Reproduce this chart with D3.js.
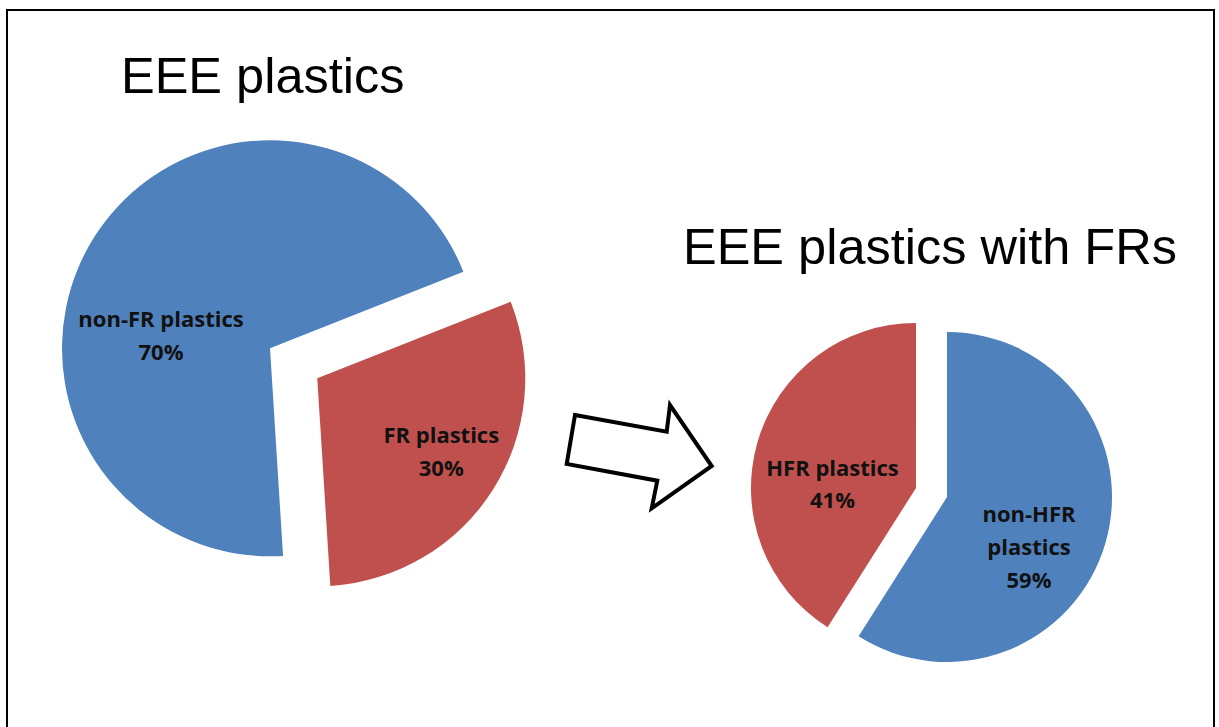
<!DOCTYPE html>
<html>
<head>
<meta charset="utf-8">
<script src="https://cdn.jsdelivr.net/npm/d3@7"></script>
<style>
  html, body { margin: 0; padding: 0; background: #ffffff; }
  svg { display: block; }
</style>
</head>
<body>
<script>
// ---------- data ----------
const leftTitle = "EEE plastics";
const leftCategories = ["non-FR plastics", "FR plastics"];
const leftValues = [70, 30];
const leftLabelLines = [["non-FR plastics", "70%"], ["FR plastics", "30%"]];

const rightTitle = "EEE plastics with FRs";
const rightCategories = ["non-HFR plastics", "HFR plastics"];
const rightValues = [59, 41];
const rightLabelLines = [["non-HFR", "plastics", "59%"], ["HFR plastics", "41%"]];

const colors = ["#4F81BD", "#C0504D"];

// ---------- layout ----------
const W = 1219, H = 727;
const deg = Math.PI / 180;

const pies = [
  {
    title: leftTitle, titleX: 121, titleY: 93.3,
    cats: leftCategories, vals: leftValues, lines: leftLabelLines,
    cx: 270, cy: 348.3, r: 208, start: 176.4,
    explode: [0, 56],
    labelOff: [[-109, -21.5], [124, 64.5]]
  },
  {
    title: rightTitle, titleX: 683, titleY: 264.3,
    cats: rightCategories, vals: rightValues, lines: rightLabelLines,
    cx: 947, cy: 497, r: 165, start: 0,
    explode: [0, 32.3],
    labelOff: [[82, 25.3], [-83.5, -12.3]]
  }
];

const svg = d3.select("body").append("svg")
  .attr("width", W).attr("height", H);

svg.append("rect").attr("width", W).attr("height", H).attr("fill", "#fff");

// outer frame
svg.append("rect")
  .attr("x", 7).attr("y", 10)
  .attr("width", 1207).attr("height", 760)
  .attr("fill", "none").attr("stroke", "#000").attr("stroke-width", 2);

pies.forEach(p => {
  const pie = d3.pie().sort(null).value(d => d)
    .startAngle(p.start * deg).endAngle(p.start * deg + 2 * Math.PI);
  const arcs = pie(p.vals);
  const arc = d3.arc().innerRadius(0).outerRadius(p.r);

  const g = svg.append("g").attr("transform", `translate(${p.cx},${p.cy})`);

  arcs.forEach((a, i) => {
    const mid = (a.startAngle + a.endAngle) / 2;
    const ex = Math.sin(mid) * p.explode[i];
    const ey = -Math.cos(mid) * p.explode[i];
    const sg = g.append("g").attr("transform", `translate(${ex},${ey})`);
    sg.append("path").attr("d", arc(a)).attr("fill", colors[i]);

    const t = sg.append("text")
      .attr("text-anchor", "middle")
      .attr("font-family", "'Open Sans', sans-serif")
      .attr("font-weight", 700)
      .attr("font-size", 22)
      .attr("fill", "#111");
    p.lines[i].forEach((ln, j) => {
      t.append("tspan")
        .attr("x", p.labelOff[i][0])
        .attr("y", p.labelOff[i][1] + j * 32.8)
        .text(ln);
    });
  });

  svg.append("text")
    .attr("x", p.titleX).attr("y", p.titleY)
    .attr("font-family", "'Liberation Sans', Arial, sans-serif")
    .attr("font-size", 50.5)
    .attr("fill", "#000")
    .text(p.title);
});

// block arrow between the pies
const arrowPts = [[575, 415], [666.7, 431.7], [670, 405], [711.7, 466], [651.7, 508.3], [657.3, 480.7], [566.7, 464]];
svg.append("path")
  .attr("d", d3.line()(arrowPts) + "Z")
  .attr("fill", "#fff")
  .attr("stroke", "#000")
  .attr("stroke-width", 4)
  .attr("stroke-linejoin", "miter");
</script>
</body>
</html>
